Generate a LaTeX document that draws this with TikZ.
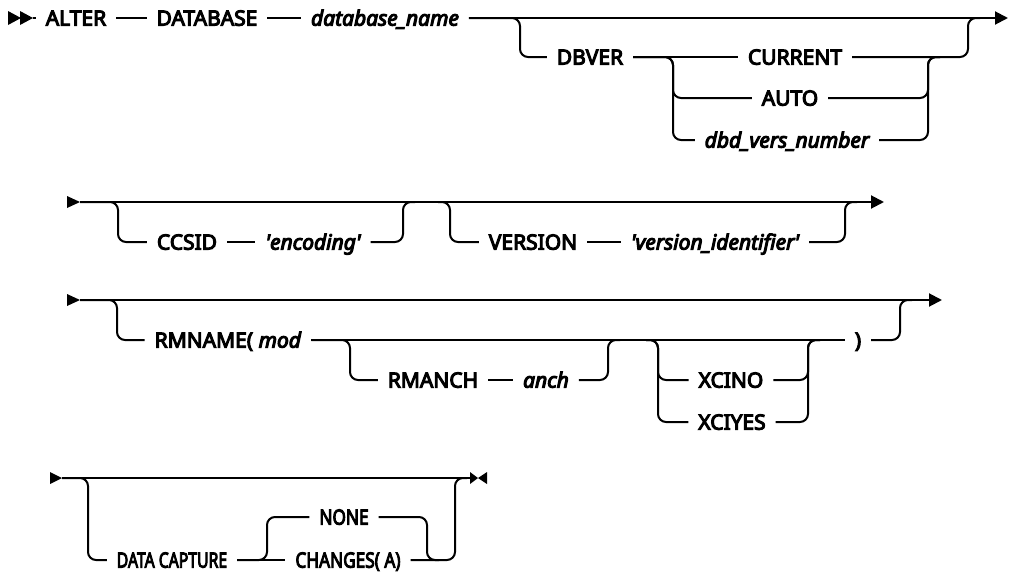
\documentclass[tikz,border=0pt]{standalone}
\usepackage{graphicx}
\usepackage{fontspec}
\setmainfont{Noto Sans}[FakeBold=5]
\usetikzlibrary{calc}
\usetikzlibrary{arrows.meta}
\newcommand{\railnarrow}[2]{\scalebox{#1}[1]{#2}}
\tikzset{
    railline/.style={
        line width=1pt,
        black,
        rounded corners=4pt
    },
    % main line with the arrow at its right end
    railarrow/.style={
        railline,
        -{Triangle[length=6.5pt, width=6.5pt]}
    },
    keyword/.style={
        inner sep=0pt,
        outer xsep=5pt,
        text height=7.6pt,
        text depth=0pt,
        font=\fontsize{10.5}{12}\selectfont
    },
    varname/.style={
        keyword,
        font=\fontsize{10.5}{12}\selectfont\itshape
    }
}

\begin{document}
\begin{tikzpicture}[x=0.5pt,y=-0.5pt]
    \useasboundingbox (0,0) rectangle (1009,573);

    % row 1
    \coordinate (st1) at (33,18);
    \node[keyword] (alter) at (76,18) {ALTER};
    \node[keyword] (database) at (207,18) {DATABASE};
    \node[varname] (dbname) at (385,18) {database\_name};
    \node[keyword] (dbver) at (590,57) {DBVER};
    \node[keyword] (current) at (795,57) {CURRENT};
    \node[keyword] (auto) at (790,98) {AUTO};
    \node[varname] (dbdvers) at (787,140) {dbd\_vers\_number};
    \coordinate (sp1) at (520,18);
    \coordinate (sp2) at (673,57);
    \coordinate (jn2) at (928,57);
    \coordinate (jn1) at (968,18);
    \coordinate (end1) at (1008,18);

    \fill (st1) ++(-25,-7) -- ++(13,7) -- ++(-13,7) -- cycle;
    \fill (st1) ++(-13,-7) -- ++(13,7) -- ++(-13,7) -- cycle;
    \draw[railline] (st1) -- (alter) -- (database) -- (dbname);
    \draw[railarrow] (dbname) -- (end1);
    \draw[railline] (dbname.east) -- (sp1) |- (dbver);
    \draw[railline] (dbver) -- (current);
    \draw[railline] (dbver.east) -- (sp2) |- (auto);
    \draw[railline] (dbver.east) -- (sp2) |- (dbdvers);
    \draw[railline] (auto) -| (jn2) -- ($(jn2)+(12,0)$);
    \draw[railline] (dbdvers) -| (jn2) -- ($(jn2)+(12,0)$);
    \draw[railline] (current) -| (jn1) -- ($(jn1)+(12,0)$);

    % row 2
    \coordinate (st2) at (80,202);
    \node[keyword] (ccsid) at (187,242) {CCSID};
    \node[varname] (encoding) at (313,242) {\textquotesingle encoding\textquotesingle};
    \node[keyword] (version) at (533,242) {VERSION};
    \node[varname] (versid) at (715,242) {\textquotesingle version\_identifier\textquotesingle};
    \coordinate (sp3) at (118,202);
    \coordinate (jn3) at (403,202);
    \coordinate (sp4) at (450,202);
    \coordinate (jn4) at (845,202);
    \coordinate (end2) at (884,202);

    \fill (st2) ++(-13,-6) -- ++(13,6) -- ++(-13,6) -- cycle;
    \draw[railarrow] (st2) -- (end2);
    \draw[railline] (st2) -- (sp3) |- (ccsid);
    \draw[railline] (ccsid) -- (encoding);
    \draw[railline] (encoding) -| (jn3) -- ($(jn3)+(12,0)$);
    \draw[railline] ($(sp4)-(12,0)$) -- (sp4) |- (version);
    \draw[railline] (version) -- (versid);
    \draw[railline] (versid) -| (jn4) -- ($(jn4)+(12,0)$);

    % row 3
    \coordinate (st3) at (80,300);
    \node[keyword] (rmname) at (228,340) {RMNAME( \textit{mod}};
    \node[keyword] (rmanch) at (433,380) {RMANCH};
    \node[varname] (anch) at (546,380) {anch};
    \node[keyword] (xcino) at (731,380) {XCINO};
    \node[keyword] (xciyes) at (732,422) {XCIYES};
    \node[keyword] (rparen) at (858,340) {)};
    \coordinate (sp5) at (117,300);
    \coordinate (sp6) at (350,340);
    \coordinate (jn6) at (608,340);
    \coordinate (sp7) at (658,340);
    \coordinate (jn7) at (808,340);
    \coordinate (jn5) at (900,300);
    \coordinate (end3) at (942,300);

    \fill (st3) ++(-13,-6) -- ++(13,6) -- ++(-13,6) -- cycle;
    \draw[railarrow] (st3) -- (end3);
    \draw[railline] (st3) -- (sp5) |- (rmname);
    \draw[railline] (rmname) -- (rparen);
    \draw[railline] (rmname.east) -- (sp6) |- (rmanch);
    \draw[railline] (rmanch) -- (anch);
    \draw[railline] (anch) -| (jn6) -- ($(jn6)+(12,0)$);
    \draw[railline] ($(sp7)-(12,0)$) -- (sp7) |- (xcino);
    \draw[railline] ($(sp7)-(12,0)$) -- (sp7) |- (xciyes);
    \draw[railline] (xcino) -| (jn7) -- ($(jn7)+(12,0)$);
    \draw[railline] (xciyes) -| (jn7) -- ($(jn7)+(12,0)$);
    \draw[railline] (rparen) -| (jn5) -- ($(jn5)+(12,0)$);

    % row 4
    \coordinate (st4) at (62,478);
    \node[keyword] (datacap) at (172,560) {\railnarrow{0.75}{DATA CAPTURE}};
    \node[keyword] (none) at (344,517) {\railnarrow{0.82}{NONE}};
    \node[keyword] (changes) at (348,560) {\railnarrow{0.82}{CHANGES( A)}};
    \coordinate (sp8) at (88,478);
    \coordinate (sp9) at (267,560);
    \coordinate (jn9) at (427,560);
    \coordinate (jn8) at (455,478);
    \coordinate (end4) at (470,478);

    \fill (st4) ++(-12,-6) -- ++(12,6) -- ++(-12,6) -- cycle;
    \draw[railline] (st4) -- (end4);
    \draw[railline] (st4) -- (sp8) |- (datacap);
    \draw[railline] (datacap) -- (changes);
    \draw[railline] (datacap.east) -- (sp9) |- (none);
    \draw[railline] (none) -| (jn9) -- ($(jn9)+(12,0)$);
    \draw[railline] (changes) -| (jn8) -- ($(jn8)+(12,0)$);
    \fill (end4) ++(0,-6) -- ++(8,6) -- ++(-8,6) -- cycle;
    \fill (end4) ++(17,-6) -- ++(-9,6) -- ++(9,6) -- cycle;
\end{tikzpicture}
\end{document}
